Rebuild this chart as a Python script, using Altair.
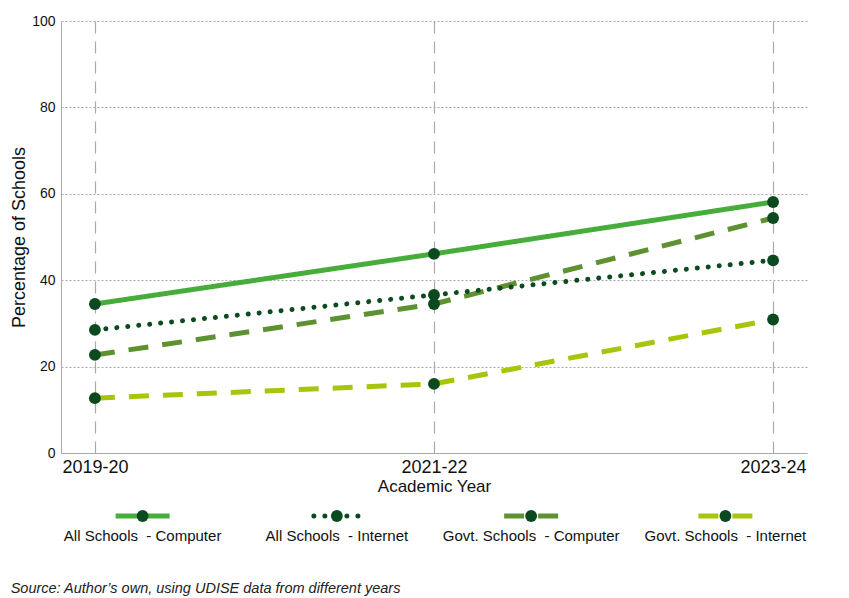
import altair as alt
import pandas as pd

years = ["2019-20", "2021-22", "2023-24"]
series = ["All Schools\u00a0 - Computer", "All Schools\u00a0 - Internet",
          "Govt. Schools\u00a0 - Computer", "Govt. Schools\u00a0 - Internet"]
all_computer = [34.5, 46.1, 58.1]
all_internet = [28.5, 36.6, 44.6]
govt_computer = [22.7, 34.5, 54.4]
govt_internet = [12.7, 16.0, 30.9]

colors = ["#47ad3a", "#0d4a1f", "#5e9130", "#a9c40c"]
dashes = [[1, 0], [0.01, 11], [20, 14], [20, 14]]
legend_dashes = [[1, 0], [0.01, 11.5], [23, 8], [18, 18]]
point_color = "#0b4a1e"
FONT = "Liberation Sans"

rows = []
for name, vals in zip(series, [all_computer, all_internet, govt_computer, govt_internet]):
    for y, v in zip(years, vals):
        rows.append({"series": name, "year": y, "value": v})
df = pd.DataFrame(rows)
leg_df = pd.DataFrame({"series": series})

color_scale = alt.Scale(domain=series, range=colors)
dash_scale = alt.Scale(domain=series, range=dashes)
leg_dash_scale = alt.Scale(domain=series, range=legend_dashes)

base = alt.Chart(df).encode(
    x=alt.X("year:N", sort=years, scale=alt.Scale(type="point", padding=0.1),
            axis=alt.Axis(title="Academic Year", labelAngle=0, labelFontSize=18,
                          titleFontSize=17, titleFontWeight="normal", labelColor="#111",
                          titleColor="#111", ticks=False, domainColor="#aaaaaa",
                          grid=True, gridDash=[12, 8], gridColor="#aaaaaa", gridWidth=1.2,
                          labelPadding=5, titlePadding=2)),
    y=alt.Y("value:Q", scale=alt.Scale(domain=[0, 100]),
            axis=alt.Axis(title="Percentage of Schools", values=[0, 20, 40, 60, 80, 100],
                          labelFontSize=14, titleFontSize=18, titleFontWeight="normal",
                          labelColor="#111", titleColor="#111", ticks=False,
                          domainColor="#aaaaaa", gridDash=[2, 2], gridColor="#aaaaaa",
                          labelPadding=6, titlePadding=3)),
)

lines_flat = base.transform_filter(alt.datum.series != series[1]).mark_line(
    strokeWidth=5, strokeCap="butt").encode(
    color=alt.Color("series:N", scale=color_scale, legend=None),
    strokeDash=alt.StrokeDash("series:N", scale=dash_scale, legend=None),
)
lines_dot = base.transform_filter(alt.datum.series == series[1]).mark_line(
    strokeWidth=5, strokeCap="round").encode(
    color=alt.Color("series:N", scale=color_scale, legend=None),
    strokeDash=alt.StrokeDash("series:N", scale=dash_scale, legend=None),
)
points = base.mark_point(filled=True, size=140, opacity=1, color=point_color)

main = alt.layer(lines_flat, lines_dot, points).properties(width=746, height=432)

leg_base = alt.Chart(leg_df).encode(
    x=alt.X("series:N", sort=series, scale=alt.Scale(type="point", padding=0.42), axis=None)
)
leg_flat = leg_base.transform_filter(alt.datum.series != series[1]).mark_rule(
    strokeWidth=5, strokeCap="butt", xOffset=-27, x2Offset=27).encode(
    x2="series:N",
    y=alt.value(8),
    color=alt.Color("series:N", scale=color_scale, legend=None),
    strokeDash=alt.StrokeDash("series:N", scale=leg_dash_scale, legend=None),
)
leg_dot = leg_base.transform_filter(alt.datum.series == series[1]).mark_rule(
    strokeWidth=5, strokeCap="round", xOffset=-23, x2Offset=23).encode(
    x2="series:N",
    y=alt.value(8),
    color=alt.Color("series:N", scale=color_scale, legend=None),
    strokeDash=alt.StrokeDash("series:N", scale=leg_dash_scale, legend=None),
)
leg_pt = leg_base.mark_point(filled=True, size=140, opacity=1, color=point_color).encode(
    y=alt.value(8))
leg_txt = leg_base.mark_text(fontSize=15, font=FONT, color="#111", baseline="middle").encode(
    y=alt.value(28), text="series:N")
legend = alt.layer(leg_flat, leg_dot, leg_pt, leg_txt).properties(width=746, height=36)

chart = alt.vconcat(main, legend, spacing=14).properties(
    padding={"left": 2, "top": 6, "right": 5, "bottom": 5},
    title=alt.TitleParams("Source: Author\u2019s own, using UDISE data from different years",
                          orient="bottom", anchor="start", frame="bounds", fontSize=14.5,
                          fontStyle="italic", fontWeight="normal", font=FONT,
                          color="#222", offset=38),
).configure_view(stroke=None).configure_axis(labelFont=FONT, titleFont=FONT)

chart.save("out.html", embed_options={"renderer": "svg", "actions": False})
